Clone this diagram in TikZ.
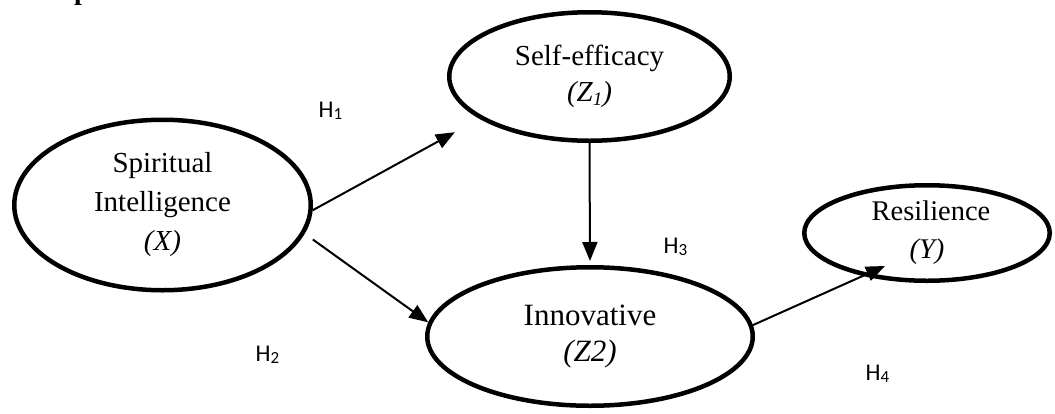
\documentclass[tikz,border=0pt]{standalone}
\usepackage{fontspec}
\setmainfont{Liberation Serif}
\newfontfamily\labelfont{Carlito}
\usetikzlibrary{shapes.geometric,arrows.meta,calc,backgrounds}

\tikzset{
  construct/.style={ellipse, draw, line width=4.5pt, inner sep=0pt, align=center},
  link/.style={line width=2pt, -{Triangle[length=19pt,width=15pt]}},
  hyp/.style={anchor=base west, inner sep=0pt, font=\labelfont\fontsize{24}{24}\selectfont},
}
% small lowered index for the hypothesis labels and variable names
\newcommand\hsub[1]{\raisebox{-0.1em}{\fontsize{17}{17}\selectfont #1}}
\newcommand\vsub[1]{\raisebox{-0.15em}{\fontsize{19}{19}\selectfont #1}}

\begin{document}
\begin{tikzpicture}[x=1pt,y=-1pt]
\useasboundingbox (0,0) rectangle (1055,413);
\clip (0,0) rectangle (1055,413);

% heading cut off at the top edge: only the descender shows
\node[anchor=base west, inner sep=0pt, font=\bfseries\fontsize{28}{28}\selectfont] (head) at (74,-1) {p};

% constructs
\node[construct, minimum width=296.5pt, minimum height=170.5pt,
      font=\fontsize{29}{39}\selectfont] (si) at (162.5,205)
      {Spiritual\\Intelligence\\\textit{(X)}};
\node[construct, minimum width=280.5pt, minimum height=128.5pt,
      font=\fontsize{29}{36}\selectfont] (se) at (589.5,76.5)
      {Self-efficacy\\\textit{(Z\vsub{1})}};
\node[construct, minimum width=325.5pt, minimum height=138.5pt,
      font=\fontsize{31}{36}\selectfont] (inn) at (590,336.5)
      {Innovative\\\textit{(Z2)}};
\node[construct, minimum width=245.5pt, minimum height=95.5pt,
      font=\fontsize{28.5}{38}\selectfont] (res) at (927,233)
      {\hspace*{8pt}Resilience\\\textit{(Y)}};

% paths, drawn beneath the ellipse outlines
\begin{pgfonlayer}{background}
  \draw[link, shorten >=28pt] (si.-2) -- (se.-159);
  \draw[link] ([xshift=12pt]si.-14) -- (inn.175);
  \draw[link, shorten >=4pt] (se.south) -- (inn.north);
  \draw[link] (inn.4) -- ($(res.center)+(-42,33)$);
\end{pgfonlayer}

% hypothesis labels
\node[hyp] (h1) at (318.5,117) {H\hsub{1}};
\node[hyp] (h2) at (255.5,361.5) {H\hsub{2}};
\node[hyp] (h3) at (663.5,253) {H\hsub{3}};
\node[hyp] (h4) at (865.5,380) {H\hsub{4}};
\end{tikzpicture}
\end{document}
